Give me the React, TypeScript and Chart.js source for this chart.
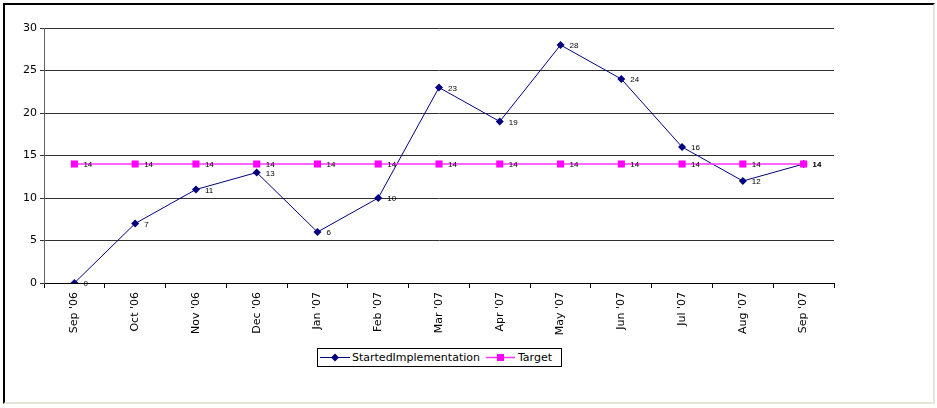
import React, { useEffect, useRef } from "react";
import { Chart, registerables } from "chart.js";

Chart.register(...registerables);

const categories = ["Sep '06", "Oct '06", "Nov '06", "Dec '06", "Jan '07", "Feb '07", "Mar '07", "Apr '07", "May '07", "Jun '07", "Jul '07", "Aug '07", "Sep '07"];
const startedImplementation = [0, 7, 11, 13, 6, 10, 23, 19, 28, 24, 16, 12, 14];
const target = [14, 14, 14, 14, 14, 14, 14, 14, 14, 14, 14, 14, 14];
const yTicks = [0, 5, 10, 15, 20, 25, 30];

const FONT = "'DejaVu Sans', Verdana, sans-serif";

const dataLabels = {
  id: "dataLabels",
  afterDatasetsDraw(chart: any) {
    const ctx = chart.ctx;
    ctx.save();
    ctx.font = "8px 'Liberation Sans', Arial, sans-serif";
    ctx.fillStyle = "#000";
    ctx.textAlign = "left";
    ctx.textBaseline = "middle";
    chart.data.datasets.forEach((ds: any, i: number) => {
      const meta = chart.getDatasetMeta(i);
      meta.data.forEach((pt: any, j: number) => {
        ctx.fillText(String(ds.data[j]), pt.x + 9, pt.y + 1);
      });
    });
    ctx.restore();
  },
};

export default function App() {
  const ref = useRef<HTMLCanvasElement>(null);
  useEffect(() => {
    if (!ref.current) return;
    const chart = new Chart(ref.current, {
      type: "line",
      data: {
        labels: categories,
        datasets: [
          {
            label: "StartedImplementation",
            data: startedImplementation,
            borderColor: "#000080",
            backgroundColor: "#000080",
            borderWidth: 1,
            pointStyle: "rectRot",
            pointRadius: 4,
            pointBorderWidth: 0,
            tension: 0,
            order: 1,
          },
          {
            label: "Target",
            data: target,
            borderColor: "#FF33FF",
            backgroundColor: "#FF00FF",
            borderWidth: 1.5,
            pointStyle: "rect",
            pointRadius: 5,
            pointBorderWidth: 0,
            tension: 0,
            order: 0,
          },
        ],
      },
      options: {
        animation: false,
        responsive: false,
        layout: { padding: { left: 4, right: 103, top: 28, bottom: 65 } },
        plugins: { legend: { display: false }, tooltip: { enabled: false } },
        scales: {
          x: {
            offset: true,
            grid: { display: true, drawOnChartArea: false, drawTicks: true, tickLength: 5, offset: true, color: "#000" },
            border: { display: true, color: "#000" },
            ticks: { color: "#000", font: { family: FONT, size: 11 }, maxRotation: 90, minRotation: 90, padding: 4, autoSkip: false },
            afterFit(scale: any) { scale.height = 60; },
          },
          y: {
            min: 0,
            max: 30,
            afterBuildTicks(scale: any) { scale.ticks = yTicks.map((v) => ({ value: v })); },
            grid: { color: "#303030", lineWidth: 1, tickLength: 4, drawTicks: true },
            border: { display: true, color: "#606060" },
            ticks: { color: "#000", font: { family: FONT, size: 11 }, padding: 3 },
            afterFit(scale: any) { scale.width = 40; },
          },
        },
      },
      plugins: [dataLabels],
    });
    return () => chart.destroy();
  }, []);

  return (
    <div style={{ position: "absolute", left: 0, top: 0, width: 937, height: 408, background: "#fff", overflow: "hidden" }}>
      <canvas ref={ref} width={937} height={408} style={{ position: "absolute", left: 0, top: 0 }} />
      <div style={{ position: "absolute", left: 3, top: 3, width: 928, height: 397, borderTop: "2px solid #000", borderLeft: "2px solid #000", borderRight: "2px solid #e4e4da", borderBottom: "2px solid #e4e4da", pointerEvents: "none" }} />
      <div style={{ position: "absolute", left: 317, top: 348, width: 243, height: 17, border: "1px solid #000", background: "#fff", fontFamily: FONT, fontSize: 11, color: "#000", display: "flex", alignItems: "center", whiteSpace: "nowrap" }}>
        <svg width={30} height={17} style={{ marginLeft: 2 }}>
          <line x1={0} y1={8.5} x2={30} y2={8.5} stroke="#000080" strokeWidth={1} />
          <polygon points="15,4.5 19,8.5 15,12.5 11,8.5" fill="#000080" />
        </svg>
        <span style={{ marginLeft: 2 }}>StartedImplementation</span>
        <svg width={29} height={17} style={{ marginLeft: 6 }}>
          <line x1={0} y1={8.5} x2={29} y2={8.5} stroke="#FF33FF" strokeWidth={1.5} />
          <rect x={11} y={5} width={7} height={7} fill="#FF00FF" />
        </svg>
        <span style={{ marginLeft: 3 }}>Target</span>
      </div>
    </div>
  );
}
